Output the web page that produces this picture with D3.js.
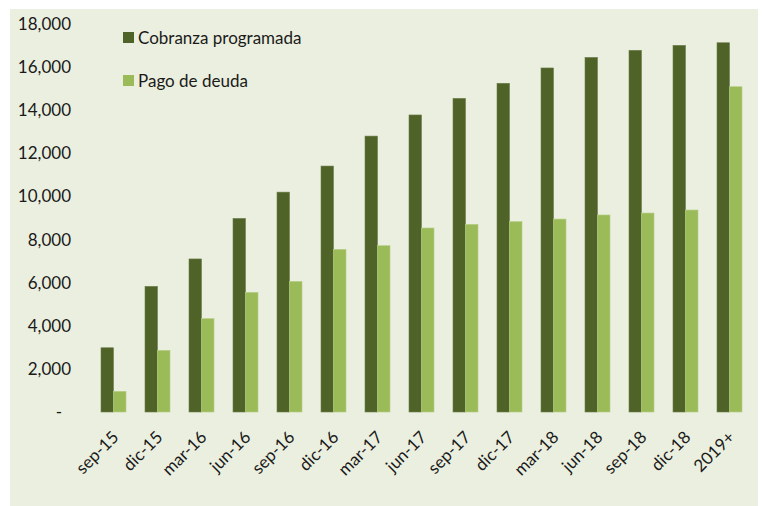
<!DOCTYPE html>
<html>
<head>
<meta charset="utf-8">
<script src="https://cdn.jsdelivr.net/npm/d3@7"></script>
<style>
  body { margin: 0; background: #ffffff; }
  svg { display: block; font-family: Lato, "Open Sans", sans-serif; }
</style>
</head>
<body>
<svg></svg>
<script>
const periods = ["sep-15", "dic-15", "mar-16", "jun-16", "sep-16", "dic-16", "mar-17", "jun-17",
    "sep-17", "dic-17", "mar-18", "jun-18", "sep-18", "dic-18", "2019+"];
const cobranza = [2980, 5830, 7100, 8980, 10200, 11410, 12800, 13780, 14550, 15250, 15960, 16450, 16780, 17010, 17130];
const pagoDeuda = [960, 2860, 4330, 5550, 6060, 7545, 7715, 8535, 8705, 8830, 8950, 9140, 9230, 9370, 15090];
const seriesNames = ["Cobranza programada", "Pago de deuda"];
const yTicks = [0, 2000, 4000, 6000, 8000, 10000, 12000, 14000, 16000, 18000];

const svg = d3.select("svg");
const svg_width = 762;
const svg_height = 506;
svg.attr("width", svg_width).attr("height", svg_height);

const colors = ["#4f6228", "#9bbb59"];
const strokes = ["#6e7f4c", "#b5cd86"];

// panel background
svg.append("rect")
    .attr("x", 10)
    .attr("y", 9)
    .attr("width", 748)
    .attr("height", 497)
    .attr("fill", "#ebefdf");

const y = d3.scaleLinear()
    .domain([0, 18000])
    .range([412, 24]);

const x0 = d3.scaleBand()
    .domain(periods)
    .range([91.5, 751.5])
    .paddingInner(0.432)
    .paddingOuter(0.216);

const x1 = d3.scaleBand()
    .domain([0, 1])
    .range([0, x0.bandwidth()]);

const rows = periods.map((p, i) => ({ period: p, values: [cobranza[i], pagoDeuda[i]] }));

const groups = svg.append("g")
    .selectAll("g")
    .data(rows)
    .join("g")
    .attr("transform", d => `translate(${x0(d.period)},0)`);

groups.selectAll("rect")
    .data(d => d.values.map((v, k) => ({ k: k, v: v })))
    .join("rect")
    .attr("x", d => x1(d.k))
    .attr("y", d => y(d.v))
    .attr("width", x1.bandwidth())
    .attr("height", d => y(0) - y(d.v))
    .attr("fill", d => colors[d.k])
    .attr("stroke", d => strokes[d.k])
    .attr("stroke-width", 0.6);

// y axis labels
const fmt = d3.format(",");
const yAxis = d3.axisLeft(y)
    .tickValues(yTicks)
    .tickSize(0)
    .tickPadding(0)
    .tickFormat(d => d === 0 ? "-" : fmt(d));

const yg = svg.append("g")
    .attr("transform", "translate(71,0)")
    .call(yAxis);
yg.select(".domain").remove();
yg.selectAll("text")
    .attr("font-family", "Lato, sans-serif")
    .attr("font-size", 17)
    .attr("fill", "#1a1a1a");
yg.selectAll("text")
    .filter(d => d === 0)
    .attr("dx", -9);

// x axis labels
const xAxis = d3.axisBottom(x0).tickSize(0).tickPadding(0);
const xg = svg.append("g")
    .attr("transform", "translate(0,412)")
    .call(xAxis);
xg.select(".domain").remove();
xg.selectAll("text")
    .attr("font-family", "Lato, sans-serif")
    .attr("font-size", 17)
    .attr("fill", "#1a1a1a")
    .attr("text-anchor", "end")
    .attr("dy", "0.35em")
    .attr("transform", "translate(2,22) rotate(-45)");

// legend
const legend = svg.append("g")
    .selectAll("g")
    .data(seriesNames)
    .join("g")
    .attr("transform", (d, i) => `translate(123,${32 + i * 43})`);

legend.append("rect")
    .attr("width", 11)
    .attr("height", 11)
    .attr("fill", (d, i) => colors[i]);

legend.append("text")
    .attr("x", 15)
    .attr("y", 6)
    .attr("dy", "0.35em")
    .attr("font-family", "Lato, sans-serif")
    .attr("font-size", 17)
    .attr("fill", "#1a1a1a")
    .text(d => d);
</script>
</body>
</html>
